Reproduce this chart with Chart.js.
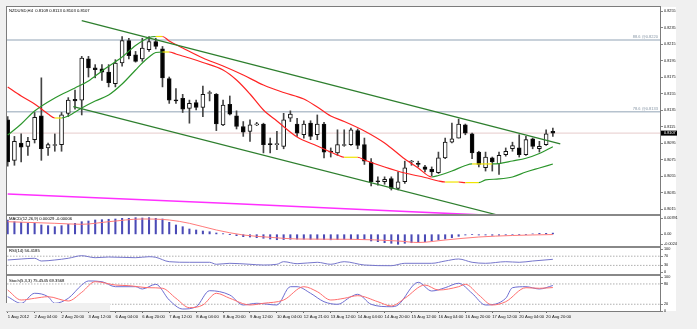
<!DOCTYPE html>
<html>
<head>
<meta charset="utf-8">
<script src="https://cdn.jsdelivr.net/npm/chart.js@4.4.0/dist/chart.umd.min.js"></script>
<style>
  html, body { margin: 0; padding: 0; background: #f0f0f0; }
  #wrap { position: relative; width: 697px; height: 329px; }
</style>
</head>
<body>
<div id="wrap"><canvas id="chart" width="697" height="329"></canvas></div>
<script>
// NZDUSD H4 with MAs, channel lines, MACD, RSI and Stochastic panes
const symbolTitle = 'NZDUSD,H4  0.8109 0.8113 0.8103 0.8107';
const macdTitle = 'MACD(12,26,9) 0.00029 -0.00006';
const rsiTitle = 'RSI(14) 56.4185';
const stochTitle = 'Stoch(5,3,3) 75.4545 69.3568';

const timeTickIdx = [0, 4, 8, 12, 16, 20, 24, 28, 32, 36, 40, 44, 48, 52, 56, 60, 64, 68, 72, 76, 80];
const timeLabels = ['1 Aug 2012', '2 Aug 04:00', '2 Aug 20:00', '3 Aug 12:00', '6 Aug 04:00', '6 Aug 20:00',
  '7 Aug 12:00', '8 Aug 04:00', '8 Aug 20:00', '9 Aug 12:00', '10 Aug 04:00', '12 Aug 21:00', '13 Aug 12:00',
  '14 Aug 04:00', '14 Aug 20:00', '15 Aug 12:00', '16 Aug 04:00', '16 Aug 20:00', '17 Aug 12:00',
  '20 Aug 04:00', '20 Aug 20:00'];

const candleOpen = [
  0.8123, 0.8074, 0.8095, 0.8091, 0.8099, 0.8128, 0.8089, 0.8092, 0.8093, 0.8131,
  0.8148, 0.8147, 0.8197, 0.8186, 0.8185, 0.8181, 0.8167, 0.8192, 0.8219, 0.8202,
  0.8197, 0.8208, 0.8218, 0.8209, 0.8173, 0.8147, 0.8149, 0.8137, 0.8144, 0.8138,
  0.8155, 0.8154, 0.8117, 0.8142, 0.8128, 0.8115, 0.8109, 0.8117, 0.8118, 0.8094,
  0.8093, 0.8091, 0.8125, 0.8118, 0.8105, 0.8119, 0.8105, 0.8118, 0.8085, 0.8083,
  0.8092, 0.8093, 0.8110, 0.8093, 0.8072, 0.8049, 0.8048, 0.8052, 0.8040, 0.8048,
  0.8072, 0.8070, 0.8066, 0.8063, 0.8059, 0.8077, 0.8096, 0.8101, 0.8117, 0.8106,
  0.8084, 0.8065, 0.8077, 0.8070, 0.8081, 0.8088, 0.8089, 0.8081, 0.8100, 0.8088,
  0.8093, 0.8109];
const candleHigh = [
  0.8127, 0.8103, 0.8106, 0.8102, 0.8132, 0.8174, 0.8095, 0.8106, 0.8132, 0.8150,
  0.8159, 0.8200, 0.8200, 0.8190, 0.8190, 0.8190, 0.8196, 0.8224, 0.8222, 0.8206,
  0.8222, 0.8224, 0.8222, 0.8212, 0.8175, 0.8161, 0.8154, 0.8147, 0.8147, 0.8164,
  0.8158, 0.8155, 0.8147, 0.8152, 0.8134, 0.8121, 0.8123, 0.8120, 0.8119, 0.8101,
  0.8109, 0.8131, 0.8134, 0.8125, 0.8122, 0.8122, 0.8129, 0.8120, 0.8089, 0.8111,
  0.8111, 0.8113, 0.8112, 0.8101, 0.8076, 0.8054, 0.8054, 0.8054, 0.8060, 0.8073,
  0.8074, 0.8073, 0.8068, 0.8066, 0.8084, 0.8101, 0.8119, 0.8124, 0.8118, 0.8107,
  0.8085, 0.8084, 0.8078, 0.8084, 0.8089, 0.8096, 0.8105, 0.8103, 0.8101, 0.8097,
  0.8111, 0.8113];
const candleLow = [
  0.8067, 0.8068, 0.8072, 0.8080, 0.8095, 0.8074, 0.8080, 0.8085, 0.8085, 0.8127,
  0.8136, 0.8129, 0.8175, 0.8174, 0.8171, 0.8163, 0.8163, 0.8188, 0.8197, 0.8193,
  0.8194, 0.8206, 0.8209, 0.8163, 0.8143, 0.8143, 0.8132, 0.8119, 0.8135, 0.8127,
  0.8146, 0.8110, 0.8116, 0.8129, 0.8112, 0.8103, 0.8097, 0.8116, 0.8083, 0.8083,
  0.8087, 0.8088, 0.8121, 0.8103, 0.8101, 0.8099, 0.8099, 0.8077, 0.8078, 0.8080,
  0.8091, 0.8092, 0.8088, 0.8069, 0.8043, 0.8044, 0.8045, 0.8038, 0.8038, 0.8046,
  0.8068, 0.8066, 0.8060, 0.8055, 0.8058, 0.8076, 0.8095, 0.8101, 0.8105, 0.8076,
  0.8066, 0.8061, 0.8061, 0.8057, 0.8079, 0.8085, 0.8078, 0.8080, 0.8088, 0.8084,
  0.8092, 0.8103];
const candleClose = [
  0.8072, 0.8097, 0.8090, 0.8097, 0.8126, 0.8088, 0.8093, 0.8093, 0.8129, 0.8147,
  0.8146, 0.8198, 0.8186, 0.8184, 0.8181, 0.8168, 0.8192, 0.8219, 0.8201, 0.8194,
  0.8210, 0.8218, 0.8212, 0.8174, 0.8147, 0.8146, 0.8136, 0.8143, 0.8138, 0.8154,
  0.8156, 0.8118, 0.8141, 0.8130, 0.8115, 0.8108, 0.8117, 0.8118, 0.8093, 0.8093,
  0.8094, 0.8123, 0.8130, 0.8107, 0.8118, 0.8103, 0.8118, 0.8084, 0.8084, 0.8093,
  0.8093, 0.8111, 0.8092, 0.8073, 0.8048, 0.8048, 0.8051, 0.8040, 0.8048, 0.8065,
  0.8073, 0.8069, 0.8063, 0.8060, 0.8077, 0.8096, 0.8100, 0.8118, 0.8107, 0.8083,
  0.8069, 0.8078, 0.8072, 0.8080, 0.8085, 0.8092, 0.8081, 0.8099, 0.8091, 0.8091,
  0.8106, 0.8107];

// two colour-coded moving averages (bar index, price)
const ma1Idx = [0, 2, 4, 7, 10, 12, 14, 17, 19, 21, 22, 23, 24, 26, 29, 32, 35, 38, 41, 44, 46, 48, 50,
  53, 56, 59, 61, 63, 64, 66, 68, 69, 70, 71, 72, 73, 75, 77, 79, 81];
const ma1 = [0.81047, 0.81180, 0.81338, 0.81496, 0.81617, 0.81702, 0.81823, 0.81992, 0.82132, 0.82229,
  0.82241, 0.82241, 0.82186, 0.82102, 0.81980, 0.81883, 0.81774, 0.81653, 0.81562, 0.81483, 0.81386,
  0.81277, 0.81211, 0.81096, 0.80950, 0.80756, 0.80647, 0.80538, 0.80556, 0.80611, 0.80677, 0.80696,
  0.80696, 0.80696, 0.80696, 0.80700, 0.80732, 0.80765, 0.80823, 0.80905];
const ma2Idx = [0, 2, 4, 6, 7, 8, 9, 11, 13, 15, 17, 19, 20, 21, 22, 23, 24, 25, 27, 29, 32, 34, 36, 38,
  40, 43, 46, 49, 50, 51, 52, 53, 56, 59, 62, 64, 65, 66, 67, 68, 69, 70, 71, 73, 75, 77, 79, 81];
const ma2 = [0.81629, 0.81520, 0.81423, 0.81302, 0.81253, 0.81253, 0.81277, 0.81374, 0.81459, 0.81532,
  0.81665, 0.81835, 0.81920, 0.81992, 0.82047, 0.82053, 0.82053, 0.82029, 0.81980, 0.81926, 0.81835,
  0.81714, 0.81544, 0.81350, 0.81217, 0.81023, 0.80914, 0.80805, 0.80777, 0.80777, 0.80777, 0.80744,
  0.80659, 0.80586, 0.80532, 0.80489, 0.80477, 0.80477, 0.80477, 0.80470, 0.80470, 0.80470, 0.80502,
  0.80514, 0.80538, 0.80598, 0.80647, 0.80695];
const maLongIdx = [0, 34, 51, 70];
const maLong = [0.80332, 0.80213, 0.80150, 0.80080];

// descending channel drawn as two trend lines
const trendUpperX = [11.0, 82.1];
const trendUpperY = [0.82432, 0.80938];
const trendLowerX = [9.75, 73.1];
const trendLowerY = [0.81390, 0.80071];

const fibLevels = [0.8220, 0.8133];
const fibLabels = ['88.6 @0.8220', '78.6 @0.8133'];
const lastPrice = 0.8107;

const priceTicks = [0.8015, 0.8035, 0.8055, 0.8075, 0.8095, 0.8115, 0.8135, 0.8155, 0.8175, 0.8195,
  0.8215, 0.8235, 0.8255];

const macdHist = [
  0.00349, 0.00307, 0.00292, 0.00268, 0.00268, 0.00227, 0.00210, 0.00185, 0.00210, 0.00244,
  0.00268, 0.00307, 0.00324, 0.00349, 0.00356, 0.00366, 0.00373, 0.00390, 0.00390, 0.00405,
  0.00397, 0.00405, 0.00390, 0.00373, 0.00292, 0.00227, 0.00185, 0.00129, 0.00105, 0.00080,
  0.00063, 0.00032, 0.00015, -0.00002, -0.00034, -0.00058, -0.00066, -0.00083, -0.00097, -0.00115,
  -0.00132, -0.00128, -0.00120, -0.00118, -0.00120, -0.00122, -0.00120, -0.00130, -0.00134, -0.00130,
  -0.00125, -0.00122, -0.00122, -0.00130, -0.00163, -0.00180, -0.00205, -0.00219, -0.00244, -0.00219,
  -0.00205, -0.00195, -0.00180, -0.00163, -0.00139, -0.00115, -0.00083, -0.00049, -0.00017, -0.00007,
  -0.00017, -0.00017, -0.00024, -0.00024, -0.00017, -0.00012, -0.00007, -0.00007, 0.00010, 0.00024,
  0.00024, 0.00029];
const macdSignalIdx = [0, 7, 11, 15, 20, 24, 27, 31, 35, 39, 43, 51, 58, 61, 65, 70, 75, 81];
const macdSignal = [0.00307, 0.00268, 0.00244, 0.00307, 0.00373, 0.00349, 0.00268, 0.00105, -0.00017,
  -0.00073, -0.00115, -0.00122, -0.00163, -0.00200, -0.00139, -0.00066, -0.00029, -0.00006];
const macdTicks = [0.00391, 0, -0.0024];
const macdTickLabels = ['0.00391', '0.00', '-0.0024'];

const rsiIdx = [0, 2, 4, 5, 7, 9, 11, 13, 15, 19, 21, 22, 24, 27, 30, 31, 33, 36, 38, 40, 41, 43, 46, 48,
  50, 53, 57, 59, 63, 65, 67, 69, 71, 74, 76, 78, 81];
const rsiVal = [53.5, 57.8, 60.9, 49.1, 53.5, 60.9, 72.2, 63.5, 66.5, 63.5, 67.8, 65.2, 46.1, 43.5, 43.5,
  34.8, 39.1, 34.8, 31.7, 34.8, 46.1, 37.4, 43.5, 34.8, 46.1, 31.7, 28.7, 39.1, 39.1, 49.1, 57.8, 43.5,
  39.1, 46.1, 43.5, 49.1, 56.42];
const rsiTicks = [100, 70, 30, 0];
const rsiLevels = [70, 30];

const stochIdx = [0, 2, 4, 6, 7, 9, 11, 12, 14, 16, 19, 20, 22, 24, 26, 28, 30, 33, 35, 37, 40, 42, 43, 45,
  47, 49, 51, 52, 54, 57, 58, 61, 63, 65, 67, 69, 71, 74, 75, 77, 79, 81];
const stochMain = [42.3, 22.8, 52.4, 42.3, 22.8, 37.6, 76.9, 88.8, 86.7, 71.9, 71.9, 65.1, 79.0, 32.5, 5.9,
  12.7, 60.1, 47.3, 17.8, 22.8, 17.8, 71.9, 71.9, 52.4, 27.5, 19.8, 42.3, 49.4, 19.8, 12.7, 17.8, 84.9,
  59.2, 68.9, 82.0, 52.4, 17.8, 37.6, 68.9, 71.9, 65.1, 75.45];
const stochSigIdx = [0, 2, 4, 6, 9, 11, 13, 16, 18, 21, 23, 25, 27, 29, 31, 33, 36, 38, 41, 44, 46, 48, 50,
  52, 55, 57, 59, 62, 64, 67, 68, 70, 72, 74, 77, 79, 81];
const stochSig = [62.1, 32.5, 37.6, 42.3, 29.6, 55.3, 86.7, 76.9, 74.9, 68.9, 67.2, 37.6, 9.8, 17.8, 52.4,
  37.6, 17.8, 22.8, 32.5, 71.9, 57.1, 32.5, 37.6, 45.3, 27.5, 14.8, 37.6, 76.9, 62.1, 71.9, 79.0, 47.3,
  17.8, 27.5, 68.9, 67.2, 69.36];
const stochTicks = [100, 80, 20, 0];
const stochLevels = [80, 20];

const X_MIN = -0.104, X_MAX = 96.92;
const FONT = 'Liberation Sans';
const GREEN = '#2c962c', RED = '#ff2424', YELLOW = '#f0e400';

const pts = (xs, ys) => xs.map((x, k) => ({ x, y: ys[k] }));
const level = v => [{ x: X_MIN, y: v }, { x: X_MAX, y: v }];
const slopeColor = c => {
  const d = c.p1.parsed.y - c.p0.parsed.y;
  return d > 0.00002 ? GREEN : (d < -0.00002 ? RED : YELLOW);
};

const lineSet = (data, axis, color, width, extra) => Object.assign({
  type: 'line', data, yAxisID: axis, borderColor: color, borderWidth: width,
  pointRadius: 0, fill: false, order: 5
}, extra || {});

const datasets = [];
fibLevels.forEach(v => datasets.push(lineSet(level(v), 'main', '#b6c2ce', 1.5, { order: 40 })));
datasets.push(lineSet(level(lastPrice), 'main', '#e6cccc', 1, { order: 40 }));

datasets.push({
  type: 'bar', yAxisID: 'main', order: 30, grouped: false, barThickness: 1,
  data: candleHigh.map((h, i) => ({ x: i, y: [candleLow[i], h] })),
  backgroundColor: '#444'
});
datasets.push({
  type: 'bar', yAxisID: 'main', order: 29, grouped: false, barThickness: 4, minBarLength: 1,
  data: candleOpen.map((o, i) => ({ x: i, y: [o, candleClose[i]] })),
  backgroundColor: c => candleClose[c.dataIndex] >= candleOpen[c.dataIndex] ? '#ffffff' : '#000000',
  borderColor: '#111', borderWidth: 1, borderSkipped: false
});

datasets.push(lineSet(pts(maLongIdx, maLong), 'main', '#ff30ff', 1.6, { order: 20 }));
datasets.push(lineSet(pts(ma1Idx, ma1), 'main', GREEN, 1.2,
  { order: 10, cubicInterpolationMode: 'monotone', segment: { borderColor: slopeColor } }));
datasets.push(lineSet(pts(ma2Idx, ma2), 'main', GREEN, 1.2,
  { order: 10, cubicInterpolationMode: 'monotone', segment: { borderColor: slopeColor } }));
datasets.push(lineSet(pts(trendUpperX, trendUpperY), 'main', '#2e7f2e', 1.3, { order: 4 }));
datasets.push(lineSet(pts(trendLowerX, trendLowerY), 'main', '#2e7f2e', 1.3, { order: 4 }));

datasets.push({
  type: 'bar', yAxisID: 'macd', order: 10, grouped: false, barThickness: 1.4,
  data: macdHist.map((v, i) => ({ x: i, y: v })), backgroundColor: '#4a4ab6'
});
datasets.push(lineSet(pts(macdSignalIdx, macdSignal), 'macd', '#ff7b7b', 1, { cubicInterpolationMode: 'monotone' }));

rsiLevels.forEach(v => datasets.push(lineSet(level(v), 'rsi', '#9a9a9a', 0.8, { borderDash: [1.5, 1.5], order: 30 })));
datasets.push(lineSet(pts(rsiIdx, rsiVal), 'rsi', '#7676cc', 1, { cubicInterpolationMode: 'monotone' }));

stochLevels.forEach(v => datasets.push(lineSet(level(v), 'stoch', '#9a9a9a', 0.8, { borderDash: [1.5, 1.5], order: 30 })));
datasets.push(lineSet(pts(stochSigIdx, stochSig), 'stoch', '#ff6e6e', 1, { cubicInterpolationMode: 'monotone' }));
datasets.push(lineSet(pts(stochIdx, stochMain), 'stoch', '#6e6ed2', 1, { cubicInterpolationMode: 'monotone' }));

const yAxis = (min, max, stackWeight, weight, tickValues, fmt) => ({
  type: 'linear', position: 'right', stack: 'panes', stackWeight, weight, min, max,
  afterBuildTicks: s => { s.ticks = tickValues.map(v => ({ value: v })); },
  afterFit: s => { s.width = 37; },
  grid: { drawOnChartArea: false, tickLength: 3, color: '#666', lineWidth: 0.8 },
  border: { display: false },
  ticks: { callback: fmt, padding: 1, autoSkip: false, color: '#111', font: { size: 3.8, family: FONT } }
});

// frame, pane separators and the text laid over the panes
const paneDecor = {
  id: 'paneDecor',
  beforeDraw(chart) {
    const { ctx, chartArea: a } = chart;
    ctx.save();
    ctx.fillStyle = '#f0f0f0';
    ctx.fillRect(0, 0, chart.width, chart.height);
    ctx.fillStyle = '#ffffff';
    ctx.fillRect(a.left, a.top, a.right - a.left + 16, a.bottom - a.top);
    ctx.restore();
  },
  afterDraw(chart) {
    const { ctx, chartArea: a, scales } = chart;
    ctx.save();
    ctx.strokeStyle = '#7c7c7c';
    ctx.lineWidth = 1;
    ctx.strokeRect(a.left - 0.5, a.top - 0.5, a.right - a.left + 1, a.bottom - a.top + 1);
    ctx.fillStyle = '#888';
    ['macd', 'rsi', 'stoch'].forEach(id => ctx.fillRect(a.left, scales[id].top - 1, a.right - a.left, 2));

    ctx.fillStyle = '#f0f0f0';
    ctx.fillRect(0, scales.stoch.bottom - 8, 110, 8.5);

    ctx.fillStyle = '#000';
    ctx.textBaseline = 'middle';
    ctx.textAlign = 'left';
    ctx.font = '4.2px "' + FONT + '"';
    ctx.fillText(symbolTitle, a.left + 2, scales.main.top + 3.5);
    ctx.fillText(macdTitle, a.left + 2, scales.macd.top + 4);
    ctx.fillText(rsiTitle, a.left + 2, scales.rsi.top + 3.5);
    ctx.fillText(stochTitle, a.left + 2, scales.stoch.top + 5.5);

    ctx.fillStyle = '#8494a4';
    ctx.textAlign = 'right';
    ctx.font = '4px "' + FONT + '"';
    fibLevels.forEach((v, k) => ctx.fillText(fibLabels[k], a.right - 2, scales.main.getPixelForValue(v) - 3));

    const py = scales.main.getPixelForValue(lastPrice);
    ctx.fillStyle = '#000';
    ctx.fillRect(a.right + 1, py - 2.5, 16, 5);
    ctx.fillStyle = '#fff';
    ctx.textAlign = 'left';
    ctx.font = '3.8px "' + FONT + '"';
    ctx.fillText(lastPrice.toFixed(4), a.right + 4, py);
    ctx.restore();
  }
};

new Chart(document.getElementById('chart'), {
  data: { datasets },
  options: {
    responsive: false,
    animation: false,
    devicePixelRatio: 1,
    events: [],
    layout: { padding: { left: 7, top: 7, right: 0, bottom: 0 } },
    plugins: { legend: { display: false }, tooltip: { enabled: false } },
    elements: { point: { radius: 0 } },
    scales: {
      x: {
        type: 'linear', position: 'bottom', min: X_MIN, max: X_MAX, offset: false,
        afterBuildTicks: s => { s.ticks = timeTickIdx.map(v => ({ value: v })); },
        afterFit: s => { s.height = 18; },
        grid: { drawOnChartArea: false, tickLength: 2, color: '#666', offset: false },
        border: { display: false },
        ticks: {
          callback: (v, i) => timeLabels[i], align: 'start', maxRotation: 0, autoSkip: false,
          padding: 1, color: '#111', font: { size: 4.2, family: FONT }
        }
      },
      main: yAxis(0.800773, 0.825985, 208, 1, priceTicks, v => v.toFixed(4)),
      macd: yAxis(-0.003095, 0.004704, 32, 2, macdTicks, (v, i) => macdTickLabels[i]),
      rsi: yAxis(-11.74, 110, 28, 3, rsiTicks, v => String(v)),
      stoch: yAxis(0, 106.5, 36, 4, stochTicks, v => String(v))
    }
  },
  plugins: [paneDecor]
});
</script>
</body>
</html>
